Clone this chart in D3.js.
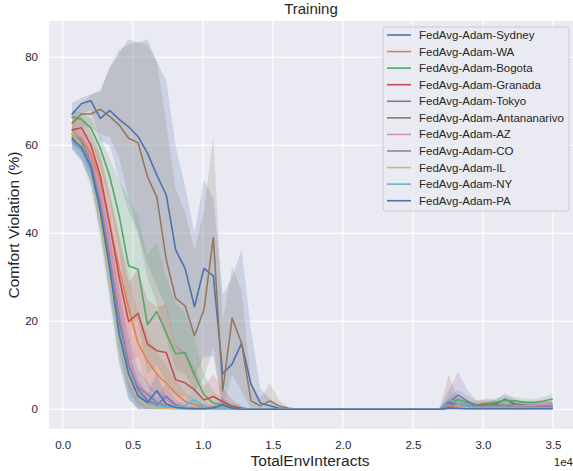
<!DOCTYPE html>
<html><head><meta charset="utf-8">
<script src="https://cdn.jsdelivr.net/npm/d3@7"></script>
<style>
html,body{margin:0;padding:0;background:#fff;}
svg{display:block;font-family:"Liberation Sans",Arial,sans-serif;}
</style></head>
<body><svg id="c" width="573" height="471"></svg>
<script>
// ---------- data ----------
const steps = [672,1344,2016,2688,3360,4032,4704,5376,6048,6720,7392,8064,8736,9408,10080,10752,11424,12096,12768,13440,14112,14784,15456,16128,16800,17472,18144,18816,19488,20160,20832,21504,22176,22848,23520,24192,24864,25536,26208,26880,27552,28224,28896,29568,30240,30912,31584,32256,32928,33600,34272,34944];
const seriesNames = ["FedAvg-Adam-Sydney","FedAvg-Adam-WA","FedAvg-Adam-Bogota","FedAvg-Adam-Granada","FedAvg-Adam-Tokyo","FedAvg-Adam-Antananarivo","FedAvg-Adam-AZ","FedAvg-Adam-CO","FedAvg-Adam-IL","FedAvg-Adam-NY","FedAvg-Adam-PA"];
const colors = ["#4c72b0","#dd8452","#55a868","#c44e52","#8172b3","#937860","#da8bc3","#8c8c8c","#ccb974","#64b5cd","#4c72b0"];
const xTicks = [0,5000,10000,15000,20000,25000,30000,35000];
const xTickLabels = ["0.0","0.5","1.0","1.5","2.0","2.5","3.0","3.5"];
const yTicks = [0,20,40,60,80];

const sydneyMean = [67.1,69.5,70.1,66.1,67.9,65.9,64.2,62.0,58.2,53.2,
 48.7,36.2,32.0,23.3,32.0,30.3,8.0,10.3,15.0,5.7,
 1.4,0.8,0.2,0,0,0,0,0,0,0,
 0,0,0,0,0,0,0,0,0,0,
 0.3,0.6,0.5,0.4,0.7,1.2,2.3,1.2,0.9,0.7,
 0.9,1.0];
const sydneyHi = [69.7,70.8,71.6,72.5,77.5,80.9,84.1,83.3,84.1,79.0,
 74.8,59.7,50.6,40.0,52.1,48.0,26.0,30.0,36.4,18.0,
 4.5,2.5,0.6,0,0,0,0,0,0,0,
 0,0,0,0,0,0,0,0,0,0,
 0.8,1.5,1.2,1.0,1.5,2.2,3.6,2.2,1.8,1.5,
 1.8,1.8];
const sydneyLo = [64.5,67.0,68.0,61.0,60.0,52.0,45.0,40.0,33.0,28.0,
 23.0,14.0,12.0,7.0,12.0,12.0,0,0,0,0,
 0,0,0,0,0,0,0,0,0,0,
 0,0,0,0,0,0,0,0,0,0,
 0,0,0,0,0,0.3,1.0,0.4,0.2,0,
 0.2,0.3];

const antananarivoMean = [65.0,67.1,67.1,68.2,66.5,64.6,61.6,60.6,52.9,48.2,
 34.0,25.2,23.5,16.7,22.6,39.0,4.2,20.7,15.0,1.9,
 0.75,1.9,0.75,0.2,0,0,0,0,0,0,
 0,0,0,0,0,0,0,0,0,0,
 0.2,0.4,0.6,0.9,1.3,1.0,0.8,1.0,0.9,0.8,
 1.0,1.1];
const antananarivoHi = [67.0,69.5,71.4,72.2,77.9,81.7,83.0,83.5,82.8,79.0,
 65.0,50.0,45.0,36.0,45.0,62.0,20.0,32.4,27.0,6.0,
 2.5,5.9,2.0,0.5,0,0,0,0,0,0,
 0,0,0,0,0,0,0,0,0,0,
 0.8,1.5,1.5,1.8,2.5,2.0,1.8,2.0,1.8,1.8,
 2.0,2.0];
const antananarivoLo = [62.0,64.5,64.0,62.5,62.0,57.0,48.0,40.0,30.0,24.0,
 16.0,9.0,8.0,4.0,7.0,14.0,0,8.0,4.0,0,
 0,0,0,0,0,0,0,0,0,0,
 0,0,0,0,0,0,0,0,0,0,
 0,0,0,0.2,0.4,0.3,0.2,0.3,0.3,0.2,
 0.3,0.4];

const bogotaMean = [66.4,65.9,63.9,59.3,52.9,44.0,32.6,31.8,19.2,22.2,
 17.3,12.6,12.9,7.8,3.3,1.4,1.0,0.5,0.2,0,
 0,0,0,0,0,0,0,0,0,0,
 0,0,0,0,0,0,0,0,0,0,
 1.0,2.2,1.5,1.0,1.2,1.6,2.0,1.9,1.6,1.5,
 1.8,2.3];
const bogotaHi = [68.0,67.5,66.0,62.0,57.0,52.0,48.0,44.0,35.0,38.0,
 30.0,24.0,22.0,16.0,8.0,4.0,2.5,1.5,0.6,0,
 0,0,0,0,0,0,0,0,0,0,
 0,0,0,0,0,0,0,0,0,0,
 2.5,4.5,3.0,2.0,2.0,2.5,3.0,2.8,2.5,2.3,
 2.8,3.5];
const bogotaLo = [64.5,64.0,61.0,55.0,47.0,36.0,20.0,20.0,8.0,10.0,
 6.0,3.0,3.0,1.0,0,0,0,0,0,0,
 0,0,0,0,0,0,0,0,0,0,
 0,0,0,0,0,0,0,0,0,0,
 0,0.5,0.5,0.3,0.5,0.8,1.0,1.0,0.8,0.8,
 1.0,1.2];

const granadaMean = [63.5,64.0,60.0,53.0,42.0,30.0,19.9,21.8,14.8,13.3,
 12.9,6.7,6.0,4.4,2.1,2.9,1.7,0.7,0.2,0,
 0,0,0,0,0,0,0,0,0,0,
 0,0,0,0,0,0,0,0,0,0,
 1.5,1.0,0.6,0.4,0.5,0.4,0.5,0.4,0.4,0.5,
 0.4,0.5];
const granadaSpread = [2,2.5,3,5,7,9,9,10,10,10,
 11,8,7,5,3,5,3,1.5,0.5,0,
 0,0,0,0,0,0,0,0,0,0,
 0,0,0,0,0,0,0,0,0,0,
 6.3,1.5,1,0.6,0.6,0.6,0.6,0.6,0.6,0.6,
 0.6,0.6];

const waMean = [62.0,61.5,58.0,52.0,42.0,32.0,23.0,15.0,11.0,8.0,
 5.9,3.6,1.8,1.0,0.5,0.4,0.3,0.2,0.1,0,
 0,0,0,0,0,0,0,0,0,0,
 0,0,0,0,0,0,0,0,0,0,
 0.4,0.6,0.4,0.3,0.3,0.3,0.3,0.3,0.3,0.3,
 0.3,0.4];
const waSpread = [2,2.5,3.5,5,7,8,8,7,6,5,
 4,3,2,1,0.8,0.5,0.5,0.3,0.2,0,
 0,0,0,0,0,0,0,0,0,0,
 0,0,0,0,0,0,0,0,0,0,
 0.6,0.8,0.5,0.4,0.4,0.4,0.4,0.4,0.4,0.4,
 0.4,0.5];

const tokyoMean = [61.0,59.0,55.0,46.0,34.0,20.0,10.0,4.5,2.0,1.0,
 2.9,1.0,0.3,0.2,0.1,0.1,0,0,0,0,
 0,0,0,0,0,0,0,0,0,0,
 0,0,0,0,0,0,0,0,0,0,
 1.5,3.2,1.8,0.8,0.9,0.8,0.6,0.6,0.5,0.5,
 0.6,0.6];
const tokyoSpread = [2,2.5,3,4.5,6,6.5,6,4,2.5,1.5,
 3,1.2,0.5,0.3,0.2,0.2,0,0,0,0,
 0,0,0,0,0,0,0,0,0,0,
 0,0,0,0,0,0,0,0,0,0,
 2.5,5.3,2.5,1.2,1,1,0.8,0.8,0.7,0.7,
 0.8,0.8];

const azMean = [62.5,61.0,57.0,49.0,37.0,23.0,12.0,6.0,3.0,1.5,
 1.0,0.6,0.4,0.3,0.2,0.3,0.2,0.1,0,0,
 0,0,0,0,0,0,0,0,0,0,
 0,0,0,0,0,0,0,0,0,0,
 1.0,0.8,0.6,0.5,0.6,0.7,0.6,0.7,0.8,0.9,
 1.0,1.0];
const azSpread = [2,2.5,3,4.5,6,7,7,5,3,2,
 1.5,1,0.6,0.5,0.4,0.5,0.4,0.2,0,0,
 0,0,0,0,0,0,0,0,0,0,
 0,0,0,0,0,0,0,0,0,0,
 1.5,1.2,0.8,0.6,0.7,0.8,0.7,0.8,0.9,1,
 1,1];

const coMean = [62.5,61.0,56.0,47.0,34.0,21.0,10.0,5.0,3.5,1.5,
 0.6,0.3,0.2,0.2,0.1,0,0,0,0,0,
 0,0,0,0,0,0,0,0,0,0,
 0,0,0,0,0,0,0,0,0,0,
 0.8,1.2,0.6,0.5,0.6,0.8,0.6,0.5,0.5,0.5,
 0.5,0.5];
const coSpread = [2,2.5,3,4.5,6,6.5,6,4,3,1.5,
 0.8,0.4,0.3,0.3,0.2,0,0,0,0,0,
 0,0,0,0,0,0,0,0,0,0,
 0,0,0,0,0,0,0,0,0,0,
 1.2,1.5,0.8,0.6,0.7,0.9,0.7,0.6,0.6,0.6,
 0.6,0.6];

const ilMean = [63.0,59.5,54.0,43.0,30.0,16.0,7.0,2.5,0.8,0.3,
 0.2,0.1,0,0,0,0,0,0,0,0,
 0,0,0,0,0,0,0,0,0,0,
 0,0,0,0,0,0,0,0,0,0,
 0.3,0.4,0.3,0.2,0.3,0.2,0.3,0.2,0.2,0.3,
 0.2,0.3];
const ilSpread = [2.5,3,4,5,6,6,5,3,1.2,0.5,
 0.3,0.2,0,0,0,0,0,0,0,0,
 0,0,0,0,0,0,0,0,0,0,
 0,0,0,0,0,0,0,0,0,0,
 0.4,0.5,0.4,0.3,0.4,0.3,0.4,0.3,0.3,0.4,
 0.3,0.4];

const nyMean = [61.0,59.0,54.0,45.0,32.0,18.0,8.0,3.0,1.5,0.8,
 0.5,0.5,0.8,2.1,0.6,0.2,0.1,0,0,0,
 0,0,0,0,0,0,0,0,0,0,
 0,0,0,0,0,0,0,0,0,0,
 2.1,1.2,0.6,0.4,0.4,0.4,0.4,0.3,0.3,0.3,
 0.3,0.3];
const nySpread = [2,2.5,3,4.5,6,6.5,5.5,3.5,2,1.2,
 0.8,0.8,1,2,0.8,0.3,0.2,0,0,0,
 0,0,0,0,0,0,0,0,0,0,
 0,0,0,0,0,0,0,0,0,0,
 2.5,1.5,0.8,0.5,0.5,0.5,0.5,0.4,0.4,0.4,
 0.4,0.4];

const paMean = [61.5,59.5,55.0,45.0,32.0,17.0,8.0,3.0,1.5,4.2,
 1.2,0.4,0.2,0.1,0.1,0.3,1.0,0.2,0,0,
 0,0,0,0,0,0,0,0,0,0,
 0,0,0,0,0,0,0,0,0,0,
 0.3,0.2,0.1,0.1,0.1,0.1,0.1,0.1,0.1,0.1,
 0.1,0.1];
const paSpread = [2,2.5,3.5,5,6.5,6.5,5.5,3.5,2,4,
 1.5,0.6,0.3,0.2,0.2,0.5,1.5,0.3,0,0,
 0,0,0,0,0,0,0,0,0,0,
 0,0,0,0,0,0,0,0,0,0,
 0.4,0.3,0.2,0.2,0.2,0.2,0.2,0.2,0.2,0.2,
 0.2,0.2];

// ---------- assemble ----------
function sym(mean, spread){ return {mean, lo: mean.map((m,i)=>Math.max(0,m-spread[i])), hi: mean.map((m,i)=>m+spread[i])}; }
const series = [
  {mean:sydneyMean, lo:sydneyLo, hi:sydneyHi},
  sym(waMean, waSpread),
  {mean:bogotaMean, lo:bogotaLo, hi:bogotaHi},
  sym(granadaMean, granadaSpread),
  sym(tokyoMean, tokyoSpread),
  {mean:antananarivoMean, lo:antananarivoLo, hi:antananarivoHi},
  sym(azMean, azSpread),
  sym(coMean, coSpread),
  sym(ilMean, ilSpread),
  sym(nyMean, nySpread),
  sym(paMean, paSpread)
].map((s,i)=>Object.assign(s,{name:seriesNames[i], color:colors[i]}));

// ---------- layout ----------
const plot = {left:49, right:577, top:21, bottom:429};
const x = d3.scaleLinear().domain([-979, 36714]).range([plot.left, plot.right]);
const y = d3.scaleLinear().domain([-4.5, 88.25]).range([plot.bottom, plot.top]);

const svg = d3.select("#c");
svg.append("defs").append("clipPath").attr("id","clip")
  .append("rect").attr("x",plot.left).attr("y",plot.top)
  .attr("width",plot.right-plot.left).attr("height",plot.bottom-plot.top);

svg.append("rect").attr("x",plot.left).attr("y",plot.top)
  .attr("width",plot.right-plot.left).attr("height",plot.bottom-plot.top)
  .attr("fill","#eaeaf2");

// grid
const grid = svg.append("g").attr("clip-path","url(#clip)");
grid.selectAll(".gx").data(xTicks).enter().append("line")
  .attr("x1",d=>x(d)).attr("x2",d=>x(d)).attr("y1",plot.top).attr("y2",plot.bottom)
  .attr("stroke","#fff").attr("stroke-width",1.1);
grid.selectAll(".gy").data(yTicks).enter().append("line")
  .attr("y1",d=>y(d)).attr("y2",d=>y(d)).attr("x1",plot.left).attr("x2",plot.right)
  .attr("stroke","#fff").attr("stroke-width",1.1);

// axes (text only, seaborn style)
const xAxis = d3.axisBottom(x).tickValues(xTicks).tickFormat((d,i)=>xTickLabels[i]).tickSize(0).tickPadding(12);
const gx = svg.append("g").attr("transform",`translate(0,${plot.bottom})`).call(xAxis);
gx.select(".domain").remove();
gx.selectAll("text").attr("font-size","11.5px").attr("fill","#262626").attr("font-family","Liberation Sans, Arial, sans-serif");

const yAxis = d3.axisLeft(y).tickValues(yTicks).tickFormat(d3.format("d")).tickSize(0).tickPadding(11);
const gy = svg.append("g").attr("transform",`translate(${plot.left},0)`).call(yAxis);
gy.select(".domain").remove();
gy.selectAll("text").attr("font-size","11.5px").attr("fill","#262626").attr("font-family","Liberation Sans, Arial, sans-serif");

// data: bands (below) then lines (above), as in matplotlib z-order
const g = svg.append("g").attr("clip-path","url(#clip)");
const line = d3.line().x((d,i)=>x(steps[i])).y(d=>y(d));
const area = d3.area().x((d,i)=>x(steps[i])).y0(d=>y(d[0])).y1(d=>y(d[1]));
series.forEach(s=>{
  g.append("path").attr("d", area(s.lo.map((v,i)=>[v,s.hi[i]])))
    .attr("fill", s.color).attr("fill-opacity",0.2).attr("stroke","none");
});
series.forEach(s=>{
  g.append("path").attr("d", line(s.mean)).attr("fill","none")
    .attr("stroke", s.color).attr("stroke-width",1.6).attr("stroke-linejoin","round").attr("stroke-linecap","round");
});

// labels
svg.append("text").attr("x",(plot.left+plot.right)/2 - 2).attr("y",14).attr("text-anchor","middle")
  .attr("font-size","15px").attr("fill","#262626").text("Training");
svg.append("text").attr("x",310).attr("y",466).attr("text-anchor","middle")
  .attr("font-size","15.5px").attr("fill","#262626").text("TotalEnvInteracts");
svg.append("text").attr("transform",`translate(19,${(plot.top+plot.bottom)/2}) rotate(-90)`)
  .attr("text-anchor","middle").attr("font-size","15.5px").attr("fill","#262626").text("Comfort Violation (%)");
svg.append("text").attr("x",573).attr("y",466).attr("text-anchor","end")
  .attr("font-size","11.5px").attr("fill","#262626").text("1e4");

// legend
const lg = svg.append("g");
lg.append("rect").attr("x",383).attr("y",27).attr("width",186).attr("height",184).attr("rx",3)
  .attr("fill","#eaeaf2").attr("fill-opacity",0.8).attr("stroke","#cccccc").attr("stroke-width",1);
series.forEach((s,i)=>{
  const yy = 35 + i*16.57;
  lg.append("line").attr("x1",387).attr("x2",411).attr("y1",yy).attr("y2",yy)
    .attr("stroke",s.color).attr("stroke-width",1.6);
  lg.append("text").attr("x",419).attr("y",yy+4).attr("font-size","11.5px").attr("fill","#262626").text(s.name);
});
</script></body></html>
